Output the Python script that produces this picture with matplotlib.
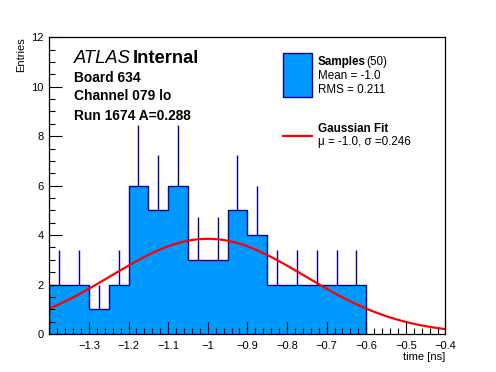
import numpy as np
import matplotlib
matplotlib.use("Agg")
import matplotlib.pyplot as plt
from matplotlib.ticker import MultipleLocator, FixedLocator, FixedFormatter
from matplotlib.patches import Rectangle
from matplotlib.lines import Line2D

plt.rcParams['font.family'] = ['Liberation Sans', 'DejaVu Sans']

# Data
bin_edges = [-1.4, -1.35, -1.3, -1.25, -1.2, -1.15, -1.1, -1.05, -1.0,
             -0.95, -0.9, -0.85, -0.8, -0.75, -0.7, -0.65, -0.6]
counts = [2, 2, 1, 2, 6, 5, 6, 3, 3, 5, 4, 2, 2, 2, 2, 2]
fit_mu = -1.0
fit_sigma = 0.246
fit_amp = 3.85
x_range = [-1.4, -0.4]
y_range = [0, 12]
xtick_vals = [-1.3, -1.2, -1.1, -1.0, -0.9, -0.8, -0.7, -0.6, -0.5, -0.4]
xtick_labels = ['\u22121.3', '\u22121.2', '\u22121.1', '\u22121', '\u22120.9',
                '\u22120.8', '\u22120.7', '\u22120.6', '\u22120.5', '\u22120.4']
ytick_vals = [0, 2, 4, 6, 8, 10, 12]

fill_col = '#0099ff'
edge_col = '#000099'

fig = plt.figure(figsize=(4.96, 3.72), dpi=100)
ax = fig.add_axes([49.3 / 496, 1 - 334 / 372, (445.5 - 49.3) / 496, (334 - 37.3) / 372])

edges = np.array(bin_edges)
cnt = np.array(counts, dtype=float)
centers = 0.5 * (edges[:-1] + edges[1:])

# error bars (sqrt N), drawn beneath the fill
for c, n in zip(centers, cnt):
    if n > 0:
        ax.plot([c, c], [n - np.sqrt(n), n + np.sqrt(n)], color=edge_col,
                lw=1.0, zorder=1, solid_capstyle='butt')

ax.stairs(cnt, edges, fill=True, color=fill_col, zorder=2)
ax.stairs(cnt, edges, baseline=0, fill=False, color=edge_col, lw=1.0, zorder=3)

xs = np.linspace(x_range[0], x_range[1], 400)
ys = fit_amp * np.exp(-0.5 * ((xs - fit_mu) / fit_sigma) ** 2)
ax.plot(xs, ys, color='#ff0000', lw=1.6, zorder=4)

ax.set_xlim(*x_range)
ax.set_ylim(*y_range)

ax.xaxis.set_major_locator(FixedLocator(xtick_vals))
ax.xaxis.set_major_formatter(FixedFormatter(xtick_labels))
ax.xaxis.set_minor_locator(MultipleLocator(0.02))
ax.yaxis.set_major_locator(FixedLocator(ytick_vals))
ax.yaxis.set_minor_locator(MultipleLocator(0.5))

ax.tick_params(which='both', direction='in', top=False, right=False,
               labelsize=8, width=0.8, colors='black')
ax.tick_params(which='major', length=9)
ax.tick_params(axis='x', which='major', pad=5)
ax.tick_params(axis='y', which='major', pad=4)
ax.tick_params(which='minor', length=4.5)
ax.xaxis.set_zorder(6)
ax.yaxis.set_zorder(6)
for s in ax.spines.values():
    s.set_linewidth(0.9)
    s.set_zorder(6)

ax.set_xlabel('time [ns]', fontsize=8, loc='right', labelpad=1)
ax.set_ylabel('Entries', fontsize=8, loc='top', labelpad=4)

# annotations
def fx(px):
    return px / 496

def fy(py):
    return 1 - py / 372

fig.text(fx(74), fy(63), 'ATLAS', fontsize=13.2, style='italic', va='baseline')
fig.text(fx(133), fy(63), 'Internal', fontsize=13.2, weight='bold', va='baseline')
fig.text(fx(74), fy(81.5), 'Board 634', fontsize=9.9, weight='bold', va='baseline')
fig.text(fx(74), fy(100.5), 'Channel 079 lo', fontsize=9.9, weight='bold', va='baseline')
fig.text(fx(74), fy(119.5), 'Run 1674 A=0.288', fontsize=9.9, weight='bold', va='baseline')

# legend
fig.patches.append(Rectangle((fx(283.3), fy(96.7)), fx(311.7) - fx(283.3),
                             fy(53.3) - fy(96.7), transform=fig.transFigure,
                             facecolor=fill_col, edgecolor=edge_col, lw=1.0))
fig.text(fx(317.7), fy(65), 'Samples', fontsize=8.4, weight='bold', va='baseline')
fig.text(fx(366), fy(65), '(50)', fontsize=8.4, va='baseline')
fig.text(fx(317.7), fy(79), 'Mean = -1.0', fontsize=8.4, va='baseline')
fig.text(fx(317.7), fy(93), 'RMS = 0.211', fontsize=8.4, va='baseline')
fig.lines.append(Line2D([fx(283), fx(312)], [fy(136), fy(136)],
                        transform=fig.transFigure, color='#ff0000', lw=1.6))
fig.text(fx(317.7), fy(132), 'Gaussian Fit', fontsize=8.4, weight='bold', va='baseline')
fig.text(fx(317.7), fy(145.5), '\u03bc = -1.0, \u03c3 =0.246', fontsize=8.4, va='baseline')

fig.savefig('out.png', dpi=100)
